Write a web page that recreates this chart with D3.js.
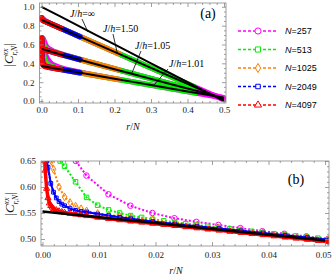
<!DOCTYPE html>
<html>
<head>
<meta charset="utf-8">
<script src="https://cdn.jsdelivr.net/npm/d3@7"></script>
<style>
body { margin: 0; background: #fff; }
svg { display: block; }
</style>
</head>
<body>
<svg id="chart" width="332" height="278"></svg>
<script>
"use strict";

// ---- data ----
const sizesN = [257, 513, 1025, 2049, 4097];
const legendLabels = ["257", "513", "1025", "2049", "4097"];

// panel (a): distances r and |C| for each N (rows follow sizesN)
const rA = [1, 2, 3, 4, 6, 8, 12, 16, 32, 64, 128, 216];
const a150 = [
  [.875, .858, .847, .8385, .823, .809, .783, .756, .650, .439, .015],
  [.879, .864, .857, .852, .843, .8355, .822, .809, .756, .650, .438, .146],
  [.880, .8677, .862, .8584, .853, .8487, .842, .8355, .809, .756, .650, .504],
  [.881, .869, .8645, .8617, .858, .8554, .852, .8487, .8355, .809, .756, .683],
  [.882, .870, .866, .8633, .8605, .8587, .857, .8554, .8487, .8355, .809, .7724]
];
const a105 = [
  [.6656, .6293, .5899, .5686, .5468, .5311, .5077, .4892, .4217, .2904, .032],
  [.6678, .6336, .5964, .5773, .5599, .5485, .5338, .523, .486, .4193, .290, .1118],
  [.669, .636, .5997, .5816, .5664, .5573, .5469, .5405, .52, .4841, .4192, .3302],
  [.6695, .637, .6014, .5838, .5697, .5616, .5534, .5493, .5375, .518, .484, .4395],
  [.670, .6375, .602, .585, .5714, .5638, .5567, .5536, .5463, .5355, .518, .4942]
];
const a101 = [
  [.6424, .5398, .4831, .4505, .4103, .385, .3595, .341, .2901, .2032, .0353],
  [.6437, .5424, .4871, .4557, .4181, .3955, .3752, .362, .3319, .2869, .2028, .0872],
  [.6443, .5437, .489, .4584, .4221, .4007, .3831, .3725, .353, .3289, .2868, .229],
  [.6447, .5443, .49, .4597, .424, .4034, .3871, .3777, .3635, .35, .3289, .30],
  [.645, .5447, .4905, .4603, .425, .4047, .389, .3804, .3687, .3605, .35, .3355]
];

// thermodynamic-limit curves (black)
const thX = [0, .05, .1, .15, .2, .25, .3, .35, .4, .45, .5];
const thInf = [1, .9, .8, .7, .6, .5, .4, .3, .2, .1, 0];
const th150 = [.862, .777, .692, .607, .522, .437, .352, .267, .182, .097, .012];
const th105 = [.553, .497, .443, .390, .338, .286, .235, .184, .133, .082, .030];
const th101 = [.371, .337, .304, .270, .236, .203, .169, .135, .101, .068, .034];

// panel (b): J/h = 1.05, zoom on small r/N
const rB257 = [1, 2, 3, 4, 5, 6, 7, 8, 9, 10, 11, 12, 13];
const vB257 = [.680, .622, .586, .564, .550, .540, .533, .527, .521, .515, .510, .505, .5005];
const rB513 = [1, 2, 3, 4, 5, 6, 7, 8, 9, 10, 11, 12, 13, 14, 15, 16, 17, 18, 19, 20, 21, 22, 23, 24, 25, 26];
const vB513 = [.665, .640, .610, .580, .565, .556, .550, .545, .5415, .538, .535, .532, .5295, .527, .5245, .522,
  .5195, .517, .5147, .5125, .5102, .508, .506, .504, .5017, .4995];
const rB1025 = [1, 2, 3, 4, 5, 6, 7, 8, 10, 12, 14, 16, 20, 24, 28, 32, 36, 40, 44, 48, 52];
const vB1025 = [.674, .634, .600, .581, .570, .563, .558, .554, .549, .546, .5435, .541, .5365, .531, .526, .521,
  .5165, .512, .5075, .503, .4985];
const rB2049 = [1, 2, 3, 4, 5, 6, 7, 8, 10, 12, 14, 16, 20, 24, 28, 32, 40, 48, 56, 64, 72, 80, 88, 96, 104];
const vB2049 = [.662, .638, .607, .590, .579, .572, .567, .564, .5585, .555, .553, .552, .548, .545, .5418, .539,
  .5336, .5288, .5245, .5202, .5158, .5115, .5072, .5028, .4985];
const rB4097 = [1, 2, 3, 4, 5, 6, 7, 8, 10, 12, 14, 16, 20, 24, 28, 32, 40, 48, 56, 64, 72, 80, 88, 96, 104,
  112, 120, 128, 136, 144, 152, 160, 168, 176, 184, 192, 200, 208];
const vB4097 = [.670, .632, .597, .579, .569, .564, .561, .558, .5555, .5535, .552, .5508, .549, .5475, .546, .5445,
  .5415, .5388, .5365, .5342, .532, .5298, .5276, .5254, .5232, .521, .5188, .5166, .5144, .5122, .510, .5078,
  .5056, .5034, .5012, .499, .4968, .4946];
const thBX = [0, .01, .02, .03, .04, .05];
const thB = [.553, .5418, .5306, .5194, .5082, .497];

// ---- styles ----
const colors = ["#ff00ff", "#00f000", "#ff8000", "#0000ff", "#ff0000"];
const symbols = [d3.symbolCircle, d3.symbolSquare, d3.symbolDiamond, d3.symbolSquare, d3.symbolTriangle];
const symSize = [24, 20, 18, 14, 16];
const bandB = [0, 0, 0, 2, 3.5];
const serif = "'Liberation Serif', 'Times New Roman', serif";
const sans = "'Liberation Sans', Arial, sans-serif";
const frameCol = "#888";

const svg = d3.select("#chart");

function drawFrame(g, x, y, box, xMaj, xMin, yMaj, yMin, fx, fy, padX, padY) {
  g.append("g").attr("class", "xlab").attr("transform", `translate(0,${box.b})`)
    .call(d3.axisBottom(x).tickValues(xMaj).tickSize(-4).tickPadding(padX).tickFormat(fx));
  g.append("g").attr("transform", `translate(0,${box.b})`)
    .call(d3.axisBottom(x).tickValues(xMin).tickSize(-2).tickFormat(""));
  g.append("g").attr("transform", `translate(0,${box.t})`)
    .call(d3.axisTop(x).tickValues(xMaj).tickSize(-4).tickFormat(""));
  g.append("g").attr("transform", `translate(0,${box.t})`)
    .call(d3.axisTop(x).tickValues(xMin).tickSize(-2).tickFormat(""));
  g.append("g").attr("transform", `translate(${box.l},0)`)
    .call(d3.axisLeft(y).tickValues(yMaj).tickSize(-4).tickPadding(padY).tickFormat(fy));
  g.append("g").attr("transform", `translate(${box.l},0)`)
    .call(d3.axisLeft(y).tickValues(yMin).tickSize(-2).tickFormat(""));
  g.append("g").attr("transform", `translate(${box.r},0)`)
    .call(d3.axisRight(y).tickValues(yMaj).tickSize(-4).tickFormat(""));
  g.append("g").attr("transform", `translate(${box.r},0)`)
    .call(d3.axisRight(y).tickValues(yMin).tickSize(-2).tickFormat(""));
  g.selectAll(".domain").remove();
  g.selectAll(".tick line").attr("stroke", frameCol).attr("stroke-width", 0.8);
  g.selectAll(".tick text")
    .attr("font-family", serif)
    .attr("font-size", 9)
    .attr("fill", "#222");
  g.append("rect")
    .attr("x", box.l).attr("y", box.t)
    .attr("width", box.r - box.l).attr("height", box.b - box.t)
    .attr("fill", "none").attr("stroke", frameCol).attr("stroke-width", 0.8);
}

function yTitle(g, cx, cy) {
  const t = g.append("text")
    .attr("transform", `translate(${cx},${cy}) rotate(-90)`)
    .attr("text-anchor", "middle")
    .attr("font-family", serif)
    .attr("font-size", 13)
    .attr("fill", "#111");
  t.append("tspan").text("|");
  t.append("tspan").attr("font-style", "italic").text("C");
  t.append("tspan").attr("font-style", "italic").attr("font-size", 8).attr("dy", -5).text("xx");
  t.append("tspan").attr("font-style", "italic").attr("font-size", 8).attr("dx", -7.1).attr("dy", 8.5).text("r,N");
  t.append("tspan").attr("dy", -3.5).text("|");
}

function xTitle(g, cx, cy) {
  const t = g.append("text")
    .attr("x", cx).attr("y", cy)
    .attr("text-anchor", "middle")
    .attr("font-family", serif)
    .attr("font-size", 10)
    .attr("fill", "#111");
  t.append("tspan").attr("font-style", "italic").text("r");
  t.append("tspan").text("/");
  t.append("tspan").attr("font-style", "italic").text("N");
}

// ================= panel (a) =================
const boxA = {l: 39.5, r: 226, t: 3, b: 103};
const xA = d3.scaleLinear().domain([0, 0.5]).range([41.5, 224]);
const yA = d3.scaleLinear().domain([0, 1]).range([101, 6.8]);
const gA = svg.append("g");

svg.append("clipPath").attr("id", "clipA").append("rect")
  .attr("x", boxA.l).attr("y", boxA.t)
  .attr("width", boxA.r - boxA.l).attr("height", boxA.b - boxA.t);

const plotA = gA.append("g").attr("clip-path", "url(#clipA)");
const lineA = d3.line().x(d => xA(d.x)).y(d => yA(d.v));

sizesN.forEach((n, i) => {
  [a150, a105, a101].forEach(set => {
    const pts = set[i].map((v, k) => ({x: rA[k] / n, v: v}));
    plotA.append("path")
      .datum(pts)
      .attr("d", lineA)
      .attr("fill", "none")
      .attr("stroke", colors[i])
      .attr("stroke-width", 5.5)
      .attr("stroke-linejoin", "round")
      .attr("stroke-linecap", "round");
  });
});

[thInf, th150, th105, th101].forEach(th => {
  plotA.append("path")
    .datum(thX.map((x, k) => ({x: x, v: th[k]})))
    .attr("d", lineA)
    .attr("fill", "none")
    .attr("stroke", "#000")
    .attr("stroke-width", 2);
});

drawFrame(gA, xA, yA, boxA,
  [0, .1, .2, .3, .4, .5], d3.range(0, 0.501, 0.02).filter(v => Math.abs(v * 10 - Math.round(v * 10)) > 1e-6),
  [0, .2, .4, .6, .8, 1], d3.range(0, 1.001, 0.05).filter(v => Math.abs(v * 5 - Math.round(v * 5)) > 1e-6),
  d3.format(".1f"), d3.format(".1f"), 4, 5);

yTitle(gA, 13, 55);
xTitle(gA, 133, 130);

// annotations
const notes = [
  {txt: "\u221e", tx: 70, ty: 17, x1: 82, y1: 19, x2: 88, y2: 32},
  {txt: "1.50", tx: 103, ty: 32, x1: 113, y1: 34, x2: 117.5, y2: 54},
  {txt: "1.05", tx: 135, ty: 49, x1: 141, y1: 51, x2: 131.5, y2: 74},
  {txt: "1.01", tx: 169, ty: 67, x1: 168, y1: 69, x2: 153, y2: 86}
];
notes.forEach(d => {
  gA.append("line")
    .attr("x1", d.x1).attr("y1", d.y1).attr("x2", d.x2).attr("y2", d.y2)
    .attr("stroke", "#000").attr("stroke-width", 0.8);
  const t = gA.append("text")
    .attr("x", d.tx).attr("y", d.ty)
    .attr("font-family", serif).attr("font-size", 10).attr("fill", "#000");
  t.append("tspan").attr("font-style", "italic").text("J");
  t.append("tspan").text("/");
  t.append("tspan").attr("font-style", "italic").text("h");
  t.append("tspan").text("=" + d.txt);
});

gA.append("text")
  .attr("x", 208).attr("y", 18)
  .attr("text-anchor", "middle")
  .attr("font-family", serif).attr("font-size", 14).attr("fill", "#000")
  .text("(a)");

// legend
const gL = svg.append("g");
const legY = [31, 49.5, 68, 86.5, 105];
sizesN.forEach((n, i) => {
  gL.append("line")
    .attr("x1", 238).attr("x2", 278).attr("y1", legY[i]).attr("y2", legY[i])
    .attr("stroke", colors[i]).attr("stroke-width", 1.6).attr("stroke-dasharray", "3,2");
  gL.append("path")
    .attr("d", d3.symbol().type(symbols[i]).size(symSize[i] + 6)())
    .attr("transform", `translate(258,${legY[i]})`)
    .attr("fill", "#fff").attr("stroke", colors[i]).attr("stroke-width", 1);
  const t = gL.append("text")
    .attr("x", 285).attr("y", legY[i] + 3.3)
    .attr("font-family", sans).attr("font-size", 9).attr("fill", "#000");
  t.append("tspan").attr("font-style", "italic").text("N");
  t.append("tspan").text("=" + legendLabels[i]);
});

// ================= panel (b) =================
const boxB = {l: 41, r: 329, t: 161, b: 246};
const xB = d3.scaleLinear().domain([0, 0.05]).range([42.5, 325]);
const yB = d3.scaleLinear().domain([0.5, 0.65]).range([239, 161]);
const gB = svg.append("g");
const vTop = 0.65;

svg.append("clipPath").attr("id", "clipB").append("rect")
  .attr("x", boxB.l).attr("y", boxB.t)
  .attr("width", boxB.r - boxB.l).attr("height", boxB.b - boxB.t);

const plotB = gB.append("g").attr("clip-path", "url(#clipB)");
const lineB = d3.line().x(d => xB(d.x)).y(d => yB(d.v));

// cut a series where it leaves the top of the frame, keeping the crossing as a vertex
function cutTop(pts) {
  const out = [];
  pts.forEach((p, k) => {
    if (p.v > vTop) return;
    const q = pts[k - 1];
    if (q && q.v > vTop) {
      const t = (vTop - p.v) / (q.v - p.v);
      out.push({x: p.x + t * (q.x - p.x), v: vTop});
    }
    out.push(p);
  });
  return out;
}

const rB = [rB257, rB513, rB1025, rB2049, rB4097];
const vB = [vB257, vB513, vB1025, vB2049, vB4097];

sizesN.forEach((n, i) => {
  const pts = cutTop(rB[i].map((r, k) => ({x: r / n, v: vB[i][k]})));
  if (bandB[i] > 0) {
    plotB.append("path").datum(pts).attr("d", lineB)
      .attr("fill", "none").attr("stroke", colors[i])
      .attr("stroke-width", bandB[i]).attr("stroke-linejoin", "round");
  }
  plotB.append("path").datum(pts).attr("d", lineB)
    .attr("fill", "none").attr("stroke", colors[i])
    .attr("stroke-width", 2).attr("stroke-dasharray", "2,2");
  plotB.selectAll(null).data(pts).enter().append("path")
    .attr("d", d3.symbol().type(symbols[i]).size(symSize[i]))
    .attr("transform", d => `translate(${xB(d.x)},${yB(d.v)})`)
    .attr("fill", "none").attr("stroke", colors[i]).attr("stroke-width", 1);
});

plotB.append("path")
  .datum(thBX.map((x, k) => ({x: x, v: thB[k]})))
  .attr("d", lineB)
  .attr("fill", "none").attr("stroke", "#000").attr("stroke-width", 2.5);

drawFrame(gB, xB, yB, boxB,
  [0, .01, .02, .03, .04, .05], d3.range(0, 0.0501, 0.002).filter(v => Math.abs(v * 100 - Math.round(v * 100)) > 1e-6),
  [.5, .55, .6, .65], d3.range(0.49, 0.6501, 0.01).filter(v => Math.abs(v * 20 - Math.round(v * 20)) > 1e-6),
  d3.format(".2f"), d3.format(".2f"), 6, 5);

// keep the last x label inside the picture
gB.select(".xlab").selectAll(".tick text").filter(d => d === 0.05).attr("dx", -2);

yTitle(gB, 14, 204);
xTitle(gB, 176, 274);

gB.append("text")
  .attr("x", 296).attr("y", 184)
  .attr("text-anchor", "middle")
  .attr("font-family", serif).attr("font-size", 14).attr("fill", "#000")
  .text("(b)");
</script>
</body>
</html>
